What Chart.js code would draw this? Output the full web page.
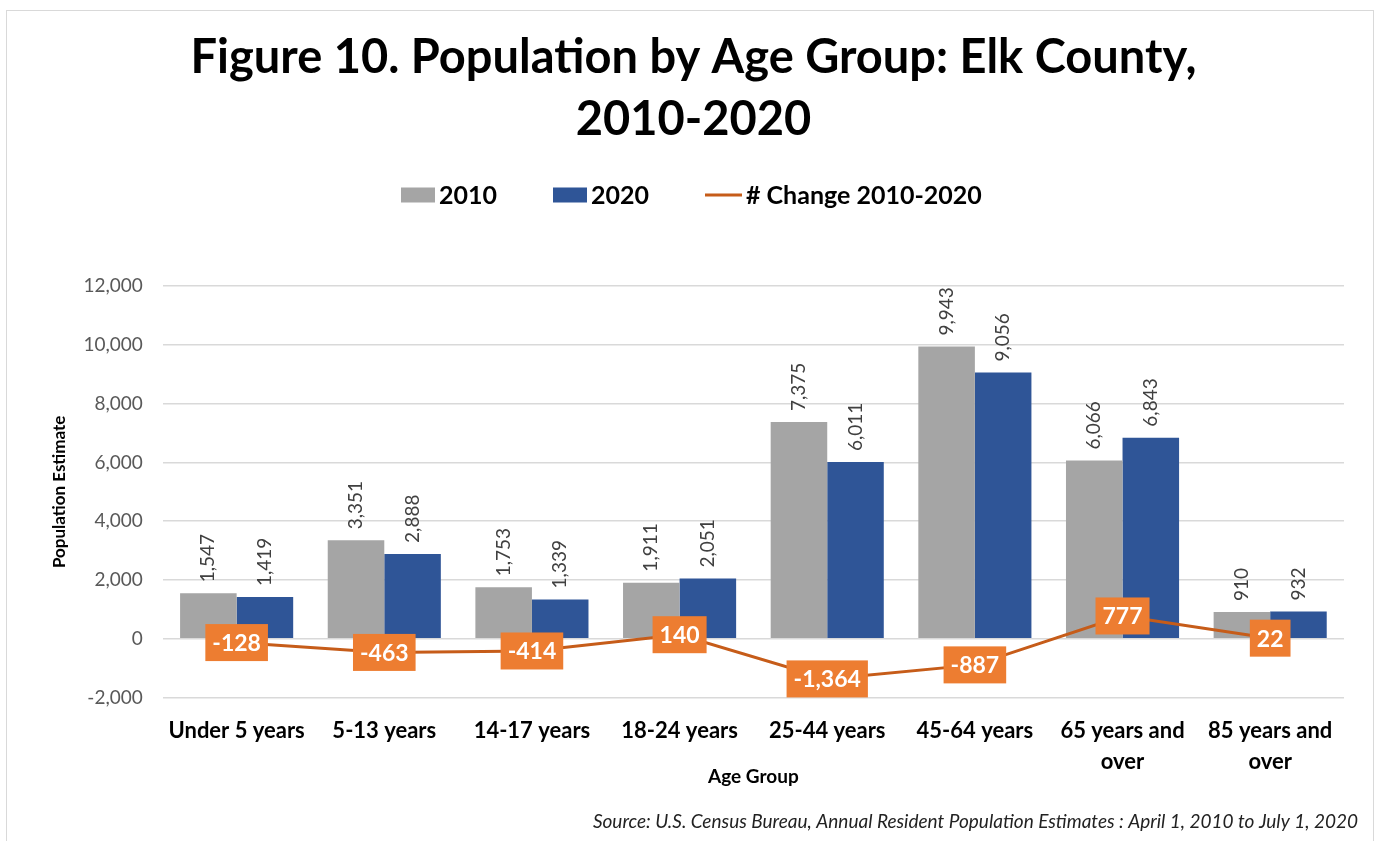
<!DOCTYPE html>
<html>
<head>
<meta charset="utf-8">
<script src="https://cdn.jsdelivr.net/npm/chart.js@4.4.1/dist/chart.umd.min.js"></script>
<style>
  html,body{margin:0;padding:0;background:#fff;}
  #wrap{width:1375px;height:841px;position:relative;}
</style>
</head>
<body>
<div id="wrap"><canvas id="c"></canvas></div>
<script>
/* data */
const categories=['Under 5 years','5-13 years','14-17 years','18-24 years','25-44 years','45-64 years',['65 years and','over'],['85 years and','over']];
const pop2010=[1547,3351,1753,1911,7375,9943,6066,910];
const pop2020=[1419,2888,1339,2051,6011,9056,6843,932];
const change=[-128,-463,-414,140,-1364,-887,777,22];
const yTicks=[-2000,0,2000,4000,6000,8000,10000,12000];
const SOURCE='Source: U.S. Census Bureau, Annual Resident Population Estimates : April 1, 2010 to July 1, 2020';

const FONT='Lato, "Open Sans", sans-serif';
const GRAY='#a5a5a5', BLUE='#2f5597', ORANGE='#ed7d31', LINE='#c65c19';
const fmt=v=>v.toLocaleString('en-US');

/* frame, legend, source and value labels */
const decor={
  id:'decor',
  beforeDraw(chart){
    const ctx=chart.ctx;
    ctx.save();
    ctx.strokeStyle='#d9d9d9';ctx.lineWidth=1;
    ctx.strokeRect(6.5,10.5,1367,840);
    ctx.restore();
  },
  afterDraw(chart){
    const ctx=chart.ctx;
    ctx.save();
    // legend
    ctx.font='bold 25px '+FONT;ctx.textBaseline='middle';
    const items=[
      {t:'2010',type:'box',c:GRAY},
      {t:'2020',type:'box',c:BLUE},
      {t:'# Change 2010-2020',type:'line',c:LINE}
    ];
    let x=401;const y=195;
    items.forEach(it=>{
      if(it.type=='box'){ctx.fillStyle=it.c;ctx.fillRect(x,y-7.5,34,15);x+=34;}
      else{ctx.strokeStyle=it.c;ctx.lineWidth=3;ctx.beginPath();ctx.moveTo(x,y);ctx.lineTo(x+37,y);ctx.stroke();x+=37;}
      x+=4;ctx.fillStyle='#000';ctx.fillText(it.t,x,y+1);
      x+=ctx.measureText(it.t).width+56;
    });
    // source note
    ctx.font='italic 19px '+FONT;ctx.fillStyle='#222';ctx.textAlign='right';
    ctx.fillText(SOURCE,1358,822);
    ctx.restore();
  },
  afterDatasetsDraw(chart){
    const ctx=chart.ctx;
    // rotated bar labels
    [0,1].forEach(i=>{
      const meta=chart.getDatasetMeta(i);
      meta.data.forEach((bar,j)=>{
        ctx.save();
        ctx.translate(bar.x,bar.y-11);
        ctx.rotate(-Math.PI/2);
        ctx.font='19px '+FONT;ctx.fillStyle='#404040';
        ctx.textAlign='left';ctx.textBaseline='middle';
        ctx.fillText(fmt(chart.data.datasets[i].data[j]),0,0);
        ctx.restore();
      });
    });
    // boxed line labels
    const lm=chart.getDatasetMeta(2);
    lm.data.forEach((pt,j)=>{
      const s=fmt(change[j]);
      ctx.save();
      ctx.font='bold 23px '+FONT;
      const w=ctx.measureText(s).width+14,h=37;
      ctx.fillStyle=ORANGE;
      ctx.fillRect(pt.x-w/2,pt.y-h/2,w,h);
      ctx.fillStyle='#fff';ctx.textAlign='center';ctx.textBaseline='middle';
      ctx.fillText(s,pt.x,pt.y+1);
      ctx.restore();
    });
  }
};

new Chart(document.getElementById('c'),{
  data:{
    labels:categories,
    datasets:[
      {type:'bar',label:'2010',data:pop2010,backgroundColor:GRAY,order:1,categoryPercentage:0.766,barPercentage:1},
      {type:'bar',label:'2020',data:pop2020,backgroundColor:BLUE,order:1,categoryPercentage:0.766,barPercentage:1},
      {type:'line',label:'# Change 2010-2020',data:change,borderColor:LINE,borderWidth:3,pointRadius:0,tension:0,order:0}
    ]
  },
  options:{
    responsive:true,maintainAspectRatio:false,animation:false,
    layout:{padding:{left:43,right:31,bottom:53}},
    plugins:{
      legend:{display:false},
      tooltip:{enabled:false},
      title:{display:true,text:['Figure 10. Population by Age Group: Elk County,','2010-2020'],
        color:'#000',font:{family:FONT,size:47,weight:'bold',lineHeight:1.32},padding:{top:27,bottom:135}}
    },
    scales:{
      x:{grid:{display:false},border:{display:false},
        ticks:{color:'#000',font:{family:FONT,size:22,weight:'bold',lineHeight:1.4},maxRotation:0,autoSkip:false,padding:10},
        title:{display:true,text:'Age Group',color:'#000',font:{family:FONT,size:19,weight:'bold'},padding:{top:-22,bottom:0}}},
      y:{min:-2000,max:12000,grid:{color:'#d9d9d9',lineWidth:1.5,drawTicks:false},border:{display:false},
        afterBuildTicks(ax){ax.ticks=yTicks.map(v=>({value:v}));},
        ticks:{color:'#595959',font:{family:FONT,size:19},padding:20,callback:v=>fmt(v)},
        title:{display:true,text:'Population Estimate',color:'#000',font:{family:FONT,size:17,weight:'bold'},padding:{top:6,bottom:-6}}}
    }
  },
  plugins:[decor]
});
</script>
</body>
</html>
